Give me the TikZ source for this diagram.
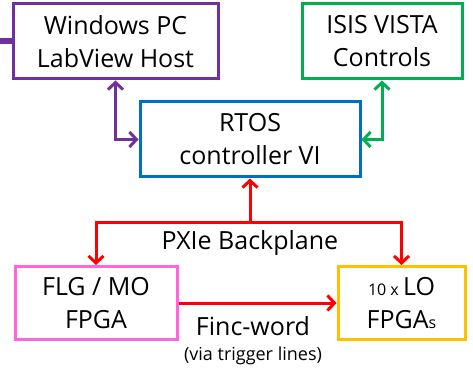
\documentclass[tikz,border=0pt]{standalone}
\usepackage{fontspec}
\setmainfont{Open Sans}
\usetikzlibrary{positioning,arrows.meta}
\definecolor{hostpurple}{HTML}{7030A0}
\definecolor{vistagreen}{HTML}{00B050}
\definecolor{rtosblue}{HTML}{0070C0}
\definecolor{flgpink}{HTML}{FF66DD}
\definecolor{loorange}{HTML}{FFC000}
\definecolor{busred}{HTML}{FF0000}
\tikzset{
  unit/.style={draw=#1,line width=3pt,minimum height=75pt,align=center,
    font=\fontsize{25}{33}\selectfont,inner sep=0pt},
  link/.style={draw=#1,line width=3pt,{Straight Barb[length=7pt,width=15pt]}-{Straight Barb[length=7pt,width=15pt]}},
  onelink/.style={draw=#1,line width=3pt,-{Straight Barb[length=7pt,width=15pt]}},
}

\begin{document}
\begin{tikzpicture}[x=1pt,y=-1pt]
        \useasboundingbox (0,0) rectangle (473,371);
        \node[unit=hostpurple,minimum width=205pt] (host) at (115.5,41.5) {Windows PC\\LabView Host};
        \node[unit=vistagreen,minimum width=160pt] (vista) at (382,41.5) {ISIS VISTA\\Controls};
        \node[unit=rtosblue,minimum width=220pt] (rtos) at (250,139.5) {RTOS\\controller VI};
        \node[unit=flgpink,minimum width=162pt,minimum height=73pt] (flg) at (96,303) {FLG / MO\\FPGA};
        \node[unit=loorange,minimum width=127pt,minimum height=73pt] (lo) at (401.5,303) {{\fontsize{16}{16}\selectfont 10 x }LO\\FPGA{\fontsize{16}{16}\selectfont s}};
        \coordinate (pcin) at (0,41.5);
        \coordinate (bus) at (250,222);
        \draw[hostpurple,line width=6pt] (pcin) -- (host.west);
        \draw[link=hostpurple] (host.south) |- (rtos.west);
        \draw[link=vistagreen] (vista.south) |- (rtos.east);
        \draw[onelink=busred] (bus) -- (rtos.south);
        \draw[onelink=busred] (bus) -| (flg.north);
        \draw[onelink=busred] (bus) -| (lo.north);
        \draw[onelink=busred] (flg.east) -- (lo.west);
        \node[font=\fontsize{25}{25}\selectfont] (bp) at (250,243) {PXIe Backplane};
        \node[font=\fontsize{25}{25}\selectfont] (finc) at (253,326) {Finc-word};
        \node[font=\fontsize{18}{18}\selectfont] (trig) at (253,356) {(via trigger lines)};
      \end{tikzpicture}
\end{document}
